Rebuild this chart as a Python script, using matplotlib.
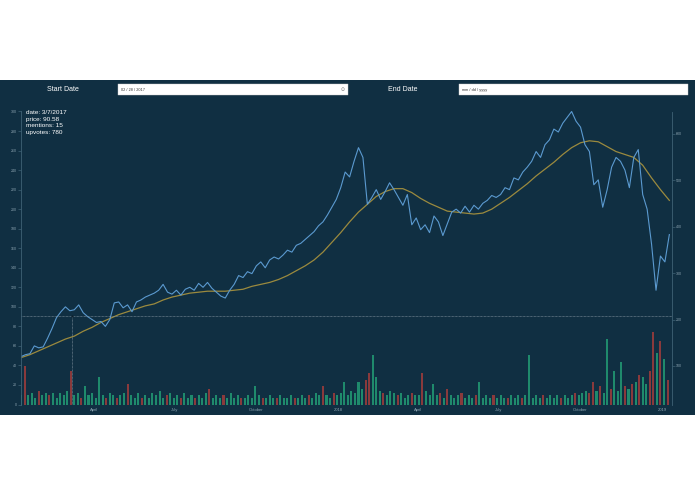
import matplotlib
matplotlib.use("Agg")
import matplotlib.pyplot as plt
import matplotlib.dates as mdates
from matplotlib.patches import Rectangle, FancyBboxPatch
import pandas as pd
import numpy as np

# ---------------- data ----------------
price_start = "2017-01-09"
price_freq = "5D"
price_values = [
    49, 51, 52, 60, 58, 59, 68, 78, 89, 95,
    100, 96, 97, 102, 94, 90, 87, 84, 85, 80,
    87, 104, 105, 99, 102, 95, 105, 107, 110, 112,
    114, 117, 123, 115, 113, 117, 112, 118, 120, 117,
    124, 120, 125, 119, 115, 111, 109, 117, 123, 132,
    130, 136, 134, 142, 146, 140, 148, 151, 149, 153,
    158, 156, 163, 165, 169, 173, 177, 183, 187, 194,
    202, 210, 222, 238, 233, 249, 263, 253, 205, 212,
    220, 210, 218, 227, 220, 212, 204, 215, 184, 191,
    179, 184, 176, 193, 187, 173, 185, 197, 200, 196,
    203, 197, 204, 200, 206, 209, 214, 212, 215, 222,
    220, 232, 230, 238, 243, 249, 259, 253, 266, 271,
    282, 279, 288, 294, 300, 290, 284, 266, 259, 225,
    230, 202, 220, 243, 253, 249, 240, 222, 253, 261,
    215, 200, 164, 117, 152, 146, 174,
]

ma_start = "2017-01-09"
ma_freq = "10D"
ma_values = [
    48, 51, 55, 59, 63, 67, 70, 75, 79, 84,
    88, 92, 95, 98, 101, 103, 107, 110, 112, 114,
    115, 116, 116, 116, 117, 118, 121, 123, 125, 128,
    132, 137, 142, 148, 156, 166, 176, 187, 197, 205,
    213, 218, 221, 221, 217, 211, 206, 202, 198, 197,
    196, 195, 196, 200, 206, 212, 219, 226, 234, 241,
    248, 256, 263, 268, 270, 269, 264, 259, 256, 253,
    245, 232, 220, 209,
]

mentions_start = "2017-01-09"
mentions_freq = "4D"
mentions_values = [
    4, 17, 4, 5, 3, 6, 4, 5, 4, 5,
    3, 5, 4, 6, 15, 4, 5, 3, 8, 4,
    5, 3, 12, 4, 3, 5, 4, 3, 4, 5,
    9, 4, 3, 5, 3, 4, 3, 5, 4, 6,
    3, 4, 5, 3, 4, 3, 5, 3, 4, 3,
    4, 3, 5, 7, 3, 4, 3, 4, 3, 5,
    3, 4, 3, 3, 4, 3, 8, 4, 3, 3,
    4, 3, 3, 4, 3, 3, 4, 3, 3, 4,
    3, 4, 3, 5, 4, 8, 4, 3, 5, 4,
    5, 10, 4, 6, 5, 10, 7, 11, 14, 22,
    12, 6, 5, 4, 6, 5, 4, 5, 3, 4,
    5, 4, 4, 14, 6, 4, 9, 4, 5, 3,
    7, 4, 3, 4, 5, 3, 4, 3, 4, 10,
    3, 4, 3, 4, 3, 4, 3, 3, 4, 3,
    4, 3, 4, 22, 3, 4, 3, 4, 3, 4,
    3, 4, 3, 4, 3, 4, 5, 4, 5, 6,
    5, 10, 6, 8, 5, 29, 7, 15, 6, 19,
    8, 7, 9, 10, 13, 12, 9, 15, 32, 23,
    28, 20, 11,
]
mentions_red_idx = [1, 5, 8, 14, 17, 24, 27, 30, 34, 41, 45, 49, 53, 57, 62, 68,
                    72, 77, 81, 85, 88, 97, 98, 102, 106, 110, 113, 118, 120, 124,
                    128, 133, 137, 141, 147, 152, 156, 160, 161, 163, 166, 170,
                    172, 174, 177, 178, 180, 182]

left_ticks = list(range(0, 301, 20))
right_ticks = [100, 200, 300, 400, 500, 600]
month_ticks = ["2017-04-01", "2017-07-01", "2017-10-01", "2018-01-01",
               "2018-04-01", "2018-07-01", "2018-10-01", "2019-01-01"]
month_labels = ["April", "July", "October", "2018", "April", "July", "October", "2019"]

tip_date = "2017-03-07"
tip_price = 90.58
tip_mentions = 15
tip_upvotes = 780
start_date_text = "02 / 28 / 2017"
end_date_text = "mm / dd / yyyy"

# ---------------- style ----------------
BG = "#102f42"
AXC = "#3f6275"
TXT = "#8fa6b3"
PRICE_C = "#5b9ad0"
MA_C = "#9b8a3e"
GREEN = "#1f8a6c"
RED = "#8a3a3c"

plt.rcParams["font.family"] = ["Liberation Sans", "DejaVu Sans"]

W, H = 695, 494
fig = plt.figure(figsize=(W / 100, H / 100), dpi=100)
fig.patch.set_facecolor("white")

def fx(px):
    return px / W

def fy(py):
    return 1 - py / H

# dark panel
fig.add_artist(Rectangle((0, fy(415)), 1, fy(80) - fy(415), transform=fig.transFigure,
                         facecolor=BG, edgecolor="none", zorder=0))

# header controls
fig.text(fx(63), fy(89.5), "Start Date", color="white", fontsize=5, ha="center", va="center")
fig.text(fx(403), fy(89.5), "End Date", color="white", fontsize=5, ha="center", va="center")
for x0, x1, txt in [(118, 348, start_date_text), (459, 688, end_date_text)]:
    fig.add_artist(Rectangle((fx(x0), fy(94.5)), fx(x1) - fx(x0), fy(84.5) - fy(94.5),
                             transform=fig.transFigure, facecolor="white",
                             edgecolor="#cccccc", linewidth=0.3, zorder=1))
    fig.text(fx(x0 + 3), fy(89.7), txt, color="#333333", fontsize=2.8, ha="left", va="center", zorder=2)
fig.text(fx(343), fy(89.7), "\u2299", color="#777777", fontsize=3.5, ha="center", va="center", zorder=2)

# axes
ax = fig.add_axes([fx(21), fy(404.5), fx(672) - fx(21), fy(111.5) - fy(404.5)])
ax.set_facecolor("none")
axr = ax.twinx()
axb = ax.twinx()
axb.set_zorder(0)
ax.set_zorder(2)
axr.set_zorder(1)

price_dates = pd.date_range(price_start, periods=len(price_values), freq=price_freq)
ma_dates = pd.date_range(ma_start, periods=len(ma_values), freq=ma_freq)
m_dates = pd.date_range(mentions_start, periods=len(mentions_values), freq=mentions_freq)
bar_colors = [RED if i in mentions_red_idx else GREEN for i in range(len(mentions_values))]

axb.bar(m_dates, mentions_values, width=2.3, color=bar_colors, linewidth=0)
axb.set_ylim(0, 130)
axb.axis("off")

ax.plot(ma_dates, ma_values, color=MA_C, linewidth=0.9)
ax.plot(price_dates, price_values, color=PRICE_C, linewidth=0.8)

xmin, xmax = pd.Timestamp("2017-01-09"), pd.Timestamp("2019-01-12")
ax.set_xlim(xmin, xmax)
ax.set_ylim(0, 300)
axr.set_ylim(17, 648)

# crosshair
td = pd.Timestamp(tip_date)
ax.plot([td, td], [0, tip_price], color="#8a9aa5", linewidth=0.5, linestyle=(0, (1, 1)))
ax.plot([xmin, xmax], [tip_price, tip_price], color="#8a9aa5", linewidth=0.5, linestyle=(0, (1, 1)))
ax.plot([td], [tip_price], marker="o", markersize=1.6, color="#0b1f2c", markeredgewidth=0)

# tooltip
tip_lines = ["date: 3/7/2017", f"price: {tip_price}", f"mentions: {tip_mentions}", f"upvotes: {tip_upvotes}"]
for k, line in enumerate(tip_lines):
    fig.text(fx(26), fy(112.5 + k * 6.6), line, color="white", fontsize=4.6, ha="left", va="center")

# axis styling
for a in (ax, axr):
    for s in a.spines.values():
        s.set_visible(False)
ax.spines["left"].set_visible(True)
ax.spines["left"].set_color(AXC)
ax.spines["left"].set_linewidth(0.6)
axr.spines["right"].set_visible(True)
axr.spines["right"].set_color(AXC)
axr.spines["right"].set_linewidth(0.6)

ax.set_yticks(left_ticks)
ax.set_yticklabels([str(t) for t in left_ticks])
axr.set_yticks(right_ticks)
axr.set_yticklabels([str(t) for t in right_ticks])
ax.set_xticks([pd.Timestamp(d) for d in month_ticks])
ax.set_xticklabels(month_labels)
ax.tick_params(axis="y", colors=AXC, labelcolor=TXT, labelsize=2.6, length=2, width=0.5, pad=1)
axr.tick_params(axis="y", colors=AXC, labelcolor=TXT, labelsize=2.6, length=2, width=0.5, pad=1)
ax.tick_params(axis="x", colors=AXC, labelcolor=TXT, labelsize=3, length=0, pad=2.5)

fig.savefig("out.png", dpi=100, facecolor="white")
